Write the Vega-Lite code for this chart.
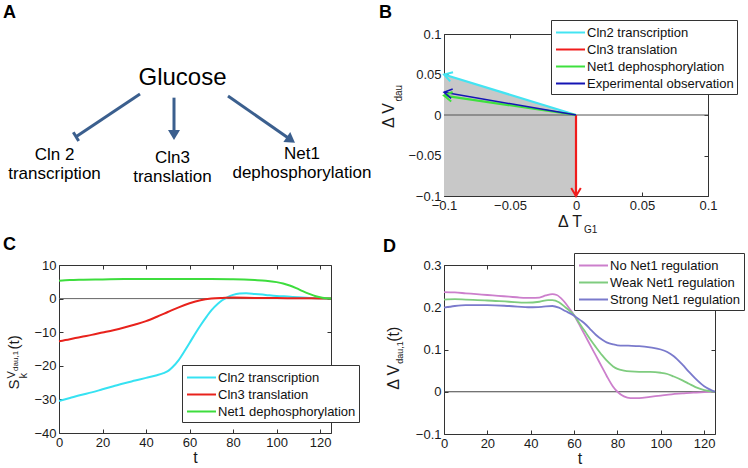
{
"$schema": "https://vega.github.io/schema/vega-lite/v6.json",
"background": "white",
"padding": {"left": 3, "top": 4, "right": 0, "bottom": 0},
"config": {
  "font": "Liberation Sans",
  "view": {"stroke": null},
  "axis": {"grid": false, "zindex": 1, "domainColor": "#333333", "tickColor": "#333333", "labelColor": "#1a1a1a", "labelFont": "Liberation Sans", "labelFontSize": 13, "tickSize": -4, "labelPadding": 7, "labelFlush": false, "labelOverlap": false, "labelBound": false, "titleFont": "Liberation Sans", "titleFontWeight": "normal", "titleFontSize": 16, "titleColor": "#1a1a1a", "titlePadding": 0},
  "text": {"font": "Liberation Sans", "color": "#1a1a1a"}
},
"datasets": {
  "diagramArrows": [
    {"x": 29.78, "y": 62.96, "x2": 6.25, "y2": 36.6},
    {"x": 5.26, "y": 39.32, "x2": 7.24, "y2": 33.95},
    {"x": 42.28, "y": 60.7, "x2": 42.28, "y2": 38.3},
    {"x": 62.13, "y": 61.73, "x2": 84.96, "y2": 35.0}
  ],
  "diagramHeads": [
    {"target": "Cln3", "x": 42.28, "y": 34.6},
    {"target": "Net1", "x": 86.76, "y": 32.9}
  ],
  "diagramRoot": [{"label": "Glucose", "x": 45.4, "y": 68.5}],
  "diagramLabels": [
    {"label": "Cln 2\ntranscription", "x": -1.65, "y": 22.2},
    {"label": "Cln3\ntranslation", "x": 41.7, "y": 20.6},
    {"label": "Net1\ndephosphorylation", "x": 89.3, "y": 22.7}
  ],
  "shadeB": [
    {"dT": -0.1, "top": 0.05, "bottom": -0.1},
    {"dT": 0, "top": 0, "bottom": -0.1}
  ],
  "arrowsB": [
    {"series": "Cln2 transcription", "dT": -0.1, "dV": 0.05},
    {"series": "Cln3 translation", "dT": 0, "dV": -0.1},
    {"series": "Net1 dephosphorylation", "dT": -0.1, "dV": 0.024},
    {"series": "Experimental observation", "dT": -0.1, "dV": 0.028}
  ],
  "panelC": [
    {"t": 0, "series": "Cln2 transcription", "S": -30.5},
    {"t": 5, "series": "Cln2 transcription", "S": -29.6},
    {"t": 10, "series": "Cln2 transcription", "S": -28.7},
    {"t": 15, "series": "Cln2 transcription", "S": -27.9},
    {"t": 20, "series": "Cln2 transcription", "S": -27.0},
    {"t": 25, "series": "Cln2 transcription", "S": -26.1},
    {"t": 30, "series": "Cln2 transcription", "S": -25.2},
    {"t": 35, "series": "Cln2 transcription", "S": -24.4},
    {"t": 40, "series": "Cln2 transcription", "S": -23.6},
    {"t": 45, "series": "Cln2 transcription", "S": -22.8},
    {"t": 48, "series": "Cln2 transcription", "S": -22.2},
    {"t": 50, "series": "Cln2 transcription", "S": -21.6},
    {"t": 52, "series": "Cln2 transcription", "S": -20.5},
    {"t": 55, "series": "Cln2 transcription", "S": -18.3},
    {"t": 58, "series": "Cln2 transcription", "S": -15.3},
    {"t": 60, "series": "Cln2 transcription", "S": -13.2},
    {"t": 63, "series": "Cln2 transcription", "S": -10.0},
    {"t": 65, "series": "Cln2 transcription", "S": -8.0},
    {"t": 68, "series": "Cln2 transcription", "S": -5.2},
    {"t": 70, "series": "Cln2 transcription", "S": -3.5},
    {"t": 73, "series": "Cln2 transcription", "S": -1.5},
    {"t": 75, "series": "Cln2 transcription", "S": -0.5},
    {"t": 78, "series": "Cln2 transcription", "S": 0.6},
    {"t": 80, "series": "Cln2 transcription", "S": 1.1},
    {"t": 83, "series": "Cln2 transcription", "S": 1.5},
    {"t": 86, "series": "Cln2 transcription", "S": 1.6},
    {"t": 90, "series": "Cln2 transcription", "S": 1.4},
    {"t": 95, "series": "Cln2 transcription", "S": 1.1},
    {"t": 100, "series": "Cln2 transcription", "S": 0.8},
    {"t": 105, "series": "Cln2 transcription", "S": 0.6},
    {"t": 110, "series": "Cln2 transcription", "S": 0.4},
    {"t": 115, "series": "Cln2 transcription", "S": 0.2},
    {"t": 120, "series": "Cln2 transcription", "S": 0.1},
    {"t": 125, "series": "Cln2 transcription", "S": 0.0},
    {"t": 0, "series": "Cln3 translation", "S": -12.7},
    {"t": 5, "series": "Cln3 translation", "S": -12.1},
    {"t": 10, "series": "Cln3 translation", "S": -11.4},
    {"t": 15, "series": "Cln3 translation", "S": -10.8},
    {"t": 20, "series": "Cln3 translation", "S": -10.1},
    {"t": 25, "series": "Cln3 translation", "S": -9.4},
    {"t": 30, "series": "Cln3 translation", "S": -8.6},
    {"t": 35, "series": "Cln3 translation", "S": -7.7},
    {"t": 40, "series": "Cln3 translation", "S": -6.7},
    {"t": 45, "series": "Cln3 translation", "S": -5.4},
    {"t": 50, "series": "Cln3 translation", "S": -4.0},
    {"t": 55, "series": "Cln3 translation", "S": -2.6},
    {"t": 60, "series": "Cln3 translation", "S": -1.4},
    {"t": 65, "series": "Cln3 translation", "S": -0.5},
    {"t": 70, "series": "Cln3 translation", "S": 0.0},
    {"t": 75, "series": "Cln3 translation", "S": 0.2},
    {"t": 80, "series": "Cln3 translation", "S": 0.3},
    {"t": 90, "series": "Cln3 translation", "S": 0.2},
    {"t": 100, "series": "Cln3 translation", "S": 0.15},
    {"t": 110, "series": "Cln3 translation", "S": 0.1},
    {"t": 120, "series": "Cln3 translation", "S": 0.05},
    {"t": 125, "series": "Cln3 translation", "S": 0.0},
    {"t": 0, "series": "Net1 dephosphorylation", "S": 5.3},
    {"t": 5, "series": "Net1 dephosphorylation", "S": 5.5},
    {"t": 10, "series": "Net1 dephosphorylation", "S": 5.6},
    {"t": 20, "series": "Net1 dephosphorylation", "S": 5.7},
    {"t": 30, "series": "Net1 dephosphorylation", "S": 5.8},
    {"t": 40, "series": "Net1 dephosphorylation", "S": 5.8},
    {"t": 50, "series": "Net1 dephosphorylation", "S": 5.8},
    {"t": 60, "series": "Net1 dephosphorylation", "S": 5.8},
    {"t": 70, "series": "Net1 dephosphorylation", "S": 5.8},
    {"t": 80, "series": "Net1 dephosphorylation", "S": 5.75},
    {"t": 85, "series": "Net1 dephosphorylation", "S": 5.65},
    {"t": 90, "series": "Net1 dephosphorylation", "S": 5.5},
    {"t": 95, "series": "Net1 dephosphorylation", "S": 5.3},
    {"t": 100, "series": "Net1 dephosphorylation", "S": 4.9},
    {"t": 103, "series": "Net1 dephosphorylation", "S": 4.5},
    {"t": 106, "series": "Net1 dephosphorylation", "S": 3.9},
    {"t": 109, "series": "Net1 dephosphorylation", "S": 3.1},
    {"t": 112, "series": "Net1 dephosphorylation", "S": 2.2},
    {"t": 115, "series": "Net1 dephosphorylation", "S": 1.4},
    {"t": 118, "series": "Net1 dephosphorylation", "S": 0.7},
    {"t": 121, "series": "Net1 dephosphorylation", "S": 0.25},
    {"t": 125, "series": "Net1 dephosphorylation", "S": 0.0}
  ],
  "panelD": [
    {"t": 0, "series": "No Net1 regulation", "dV": 0.236},
    {"t": 5, "series": "No Net1 regulation", "dV": 0.235},
    {"t": 10, "series": "No Net1 regulation", "dV": 0.233},
    {"t": 15, "series": "No Net1 regulation", "dV": 0.231},
    {"t": 20, "series": "No Net1 regulation", "dV": 0.229},
    {"t": 25, "series": "No Net1 regulation", "dV": 0.227},
    {"t": 30, "series": "No Net1 regulation", "dV": 0.225},
    {"t": 35, "series": "No Net1 regulation", "dV": 0.223},
    {"t": 40, "series": "No Net1 regulation", "dV": 0.222},
    {"t": 44, "series": "No Net1 regulation", "dV": 0.223},
    {"t": 47, "series": "No Net1 regulation", "dV": 0.228},
    {"t": 50, "series": "No Net1 regulation", "dV": 0.231},
    {"t": 52, "series": "No Net1 regulation", "dV": 0.229},
    {"t": 55, "series": "No Net1 regulation", "dV": 0.216},
    {"t": 58, "series": "No Net1 regulation", "dV": 0.196},
    {"t": 60, "series": "No Net1 regulation", "dV": 0.181},
    {"t": 63, "series": "No Net1 regulation", "dV": 0.153},
    {"t": 65, "series": "No Net1 regulation", "dV": 0.134},
    {"t": 68, "series": "No Net1 regulation", "dV": 0.105},
    {"t": 70, "series": "No Net1 regulation", "dV": 0.086},
    {"t": 73, "series": "No Net1 regulation", "dV": 0.057},
    {"t": 75, "series": "No Net1 regulation", "dV": 0.038},
    {"t": 78, "series": "No Net1 regulation", "dV": 0.012},
    {"t": 80, "series": "No Net1 regulation", "dV": 0.0},
    {"t": 83, "series": "No Net1 regulation", "dV": -0.011},
    {"t": 86, "series": "No Net1 regulation", "dV": -0.015},
    {"t": 90, "series": "No Net1 regulation", "dV": -0.015},
    {"t": 95, "series": "No Net1 regulation", "dV": -0.012},
    {"t": 100, "series": "No Net1 regulation", "dV": -0.009},
    {"t": 105, "series": "No Net1 regulation", "dV": -0.006},
    {"t": 110, "series": "No Net1 regulation", "dV": -0.004},
    {"t": 115, "series": "No Net1 regulation", "dV": -0.002},
    {"t": 120, "series": "No Net1 regulation", "dV": -0.001},
    {"t": 125, "series": "No Net1 regulation", "dV": 0.0},
    {"t": 0, "series": "Weak Net1 regulation", "dV": 0.218},
    {"t": 5, "series": "Weak Net1 regulation", "dV": 0.219},
    {"t": 10, "series": "Weak Net1 regulation", "dV": 0.218},
    {"t": 20, "series": "Weak Net1 regulation", "dV": 0.216},
    {"t": 30, "series": "Weak Net1 regulation", "dV": 0.213},
    {"t": 38, "series": "Weak Net1 regulation", "dV": 0.211},
    {"t": 44, "series": "Weak Net1 regulation", "dV": 0.213},
    {"t": 48, "series": "Weak Net1 regulation", "dV": 0.217},
    {"t": 50, "series": "Weak Net1 regulation", "dV": 0.217},
    {"t": 53, "series": "Weak Net1 regulation", "dV": 0.212},
    {"t": 56, "series": "Weak Net1 regulation", "dV": 0.2},
    {"t": 60, "series": "Weak Net1 regulation", "dV": 0.181},
    {"t": 63, "series": "Weak Net1 regulation", "dV": 0.158},
    {"t": 65, "series": "Weak Net1 regulation", "dV": 0.143},
    {"t": 68, "series": "Weak Net1 regulation", "dV": 0.12},
    {"t": 70, "series": "Weak Net1 regulation", "dV": 0.106},
    {"t": 73, "series": "Weak Net1 regulation", "dV": 0.086},
    {"t": 75, "series": "Weak Net1 regulation", "dV": 0.074},
    {"t": 78, "series": "Weak Net1 regulation", "dV": 0.06},
    {"t": 80, "series": "Weak Net1 regulation", "dV": 0.054},
    {"t": 83, "series": "Weak Net1 regulation", "dV": 0.05},
    {"t": 86, "series": "Weak Net1 regulation", "dV": 0.048},
    {"t": 90, "series": "Weak Net1 regulation", "dV": 0.047},
    {"t": 95, "series": "Weak Net1 regulation", "dV": 0.047},
    {"t": 100, "series": "Weak Net1 regulation", "dV": 0.045},
    {"t": 103, "series": "Weak Net1 regulation", "dV": 0.042},
    {"t": 106, "series": "Weak Net1 regulation", "dV": 0.036},
    {"t": 110, "series": "Weak Net1 regulation", "dV": 0.027},
    {"t": 113, "series": "Weak Net1 regulation", "dV": 0.019},
    {"t": 116, "series": "Weak Net1 regulation", "dV": 0.011},
    {"t": 120, "series": "Weak Net1 regulation", "dV": 0.004},
    {"t": 125, "series": "Weak Net1 regulation", "dV": 0.0},
    {"t": 0, "series": "Strong Net1 regulation", "dV": 0.199},
    {"t": 5, "series": "Strong Net1 regulation", "dV": 0.203},
    {"t": 10, "series": "Strong Net1 regulation", "dV": 0.205},
    {"t": 20, "series": "Strong Net1 regulation", "dV": 0.205},
    {"t": 30, "series": "Strong Net1 regulation", "dV": 0.203},
    {"t": 40, "series": "Strong Net1 regulation", "dV": 0.2},
    {"t": 45, "series": "Strong Net1 regulation", "dV": 0.201},
    {"t": 50, "series": "Strong Net1 regulation", "dV": 0.203},
    {"t": 53, "series": "Strong Net1 regulation", "dV": 0.199},
    {"t": 56, "series": "Strong Net1 regulation", "dV": 0.191},
    {"t": 60, "series": "Strong Net1 regulation", "dV": 0.18},
    {"t": 63, "series": "Strong Net1 regulation", "dV": 0.169},
    {"t": 65, "series": "Strong Net1 regulation", "dV": 0.161},
    {"t": 68, "series": "Strong Net1 regulation", "dV": 0.145},
    {"t": 70, "series": "Strong Net1 regulation", "dV": 0.135},
    {"t": 73, "series": "Strong Net1 regulation", "dV": 0.123},
    {"t": 75, "series": "Strong Net1 regulation", "dV": 0.117},
    {"t": 78, "series": "Strong Net1 regulation", "dV": 0.112},
    {"t": 80, "series": "Strong Net1 regulation", "dV": 0.11},
    {"t": 85, "series": "Strong Net1 regulation", "dV": 0.109},
    {"t": 90, "series": "Strong Net1 regulation", "dV": 0.108},
    {"t": 95, "series": "Strong Net1 regulation", "dV": 0.105},
    {"t": 100, "series": "Strong Net1 regulation", "dV": 0.1},
    {"t": 103, "series": "Strong Net1 regulation", "dV": 0.094},
    {"t": 106, "series": "Strong Net1 regulation", "dV": 0.084},
    {"t": 110, "series": "Strong Net1 regulation", "dV": 0.064},
    {"t": 113, "series": "Strong Net1 regulation", "dV": 0.047},
    {"t": 116, "series": "Strong Net1 regulation", "dV": 0.031},
    {"t": 120, "series": "Strong Net1 regulation", "dV": 0.013},
    {"t": 125, "series": "Strong Net1 regulation", "dV": 0.0}
  ]
},
"columns": 2,
"bounds": "flush",
"spacing": {"row": 69, "column": 113},
"resolve": {"scale": {"color": "independent"}, "legend": {"color": "independent"}},
"concat": [
  {
    "width": 272, "height": 162,
    "data": {"values": [{}]},
    "layer": [
      {"data": {"name": "diagramArrows"}, "mark": {"type": "rule", "color": "#3b5f8e", "strokeWidth": 3},
       "encoding": {
         "x": {"field": "x", "type": "quantitative", "scale": {"domain": [0, 100], "nice": false, "zero": false}, "axis": null},
         "y": {"field": "y", "type": "quantitative", "scale": {"domain": [0, 100], "nice": false, "zero": false}, "axis": null},
         "x2": {"field": "x2"}, "y2": {"field": "y2"}}},
      {"data": {"name": "diagramHeads"}, "transform": [{"filter": "datum.target === 'Cln3'"}],
       "mark": {"type": "point", "shape": "M0,0L-1,-0.6L-1,0.6Z", "filled": true, "opacity": 1, "color": "#3b5f8e", "size": 400, "angle": 90},
       "encoding": {"x": {"field": "x", "type": "quantitative", "axis": null}, "y": {"field": "y", "type": "quantitative", "axis": null}}},
      {"data": {"name": "diagramHeads"}, "transform": [{"filter": "datum.target === 'Net1'"}],
       "mark": {"type": "point", "shape": "M0,0L-1,-0.6L-1,0.6Z", "filled": true, "opacity": 1, "color": "#3b5f8e", "size": 400, "angle": 35},
       "encoding": {"x": {"field": "x", "type": "quantitative", "axis": null}, "y": {"field": "y", "type": "quantitative", "axis": null}}},
      {"data": {"name": "diagramRoot"}, "mark": {"type": "text", "fontSize": 24, "align": "center", "baseline": "alphabetic", "color": "#000000"},
       "encoding": {"x": {"field": "x", "type": "quantitative", "axis": null}, "y": {"field": "y", "type": "quantitative", "axis": null}, "text": {"field": "label"}}},
      {"data": {"name": "diagramLabels"}, "mark": {"type": "text", "fontSize": 17, "lineHeight": 19, "lineBreak": "\n", "align": "center", "baseline": "alphabetic", "color": "#000000"},
       "encoding": {"x": {"field": "x", "type": "quantitative", "axis": null}, "y": {"field": "y", "type": "quantitative", "axis": null}, "text": {"field": "label"}}},
      {"mark": {"type": "text", "text": "A", "fontSize": 18, "fontWeight": "bold", "align": "left", "baseline": "alphabetic", "color": "#000000", "dx": -56, "dy": -16},
       "encoding": {"x": {"datum": 0, "type": "quantitative", "axis": null}, "y": {"datum": 100, "type": "quantitative", "axis": null}}}
    ]
  },
  {
    "width": 264, "height": 162,
    "data": {"values": [{}]},
    "resolve": {"axis": {"x": "independent", "y": "independent"}},
    "layer": [
      {"data": {"name": "shadeB"}, "mark": {"type": "area", "color": "#c8c8c8", "opacity": 1},
       "encoding": {
         "x": {"field": "dT", "type": "quantitative", "scale": {"domain": [-0.1, 0.1], "nice": false, "zero": false}, "axis": {"values": [-0.1, -0.05, 0, 0.05, 0.1], "format": "~g", "title": null}},
         "y": {"field": "top", "type": "quantitative", "scale": {"domain": [-0.1, 0.1], "nice": false, "zero": false}, "axis": {"values": [-0.1, -0.05, 0, 0.05, 0.1], "format": "~g", "title": null}},
         "y2": {"field": "bottom"}
       }},
      {"mark": {"type": "rule", "color": "#555555", "strokeWidth": 1},
       "encoding": {
         "x": {"datum": -0.1, "type": "quantitative", "axis": {"orient": "top", "labels": false, "title": null, "values": [-0.1, -0.05, 0, 0.05, 0.1]}},
         "x2": {"datum": 0.1},
         "y": {"datum": 0, "type": "quantitative", "axis": {"orient": "right", "labels": false, "title": null, "values": [-0.1, -0.05, 0, 0.05, 0.1]}}
       }},
      {"data": {"name": "arrowsB"}, "transform": [{"filter": "datum.series !== 'Experimental observation'"}],
       "mark": {"type": "rule", "strokeWidth": 2.2},
       "encoding": {
         "x": {"field": "dT", "type": "quantitative", "axis": null},
         "y": {"field": "dV", "type": "quantitative", "axis": null},
         "x2": {"datum": 0}, "y2": {"datum": 0},
         "color": {"field": "series", "type": "nominal",
           "scale": {"domain": ["Cln2 transcription", "Cln3 translation", "Net1 dephosphorylation", "Experimental observation"], "range": ["#44e4f2", "#f01c1c", "#3ee03e", "#1414b4"]},
           "legend": {"orient": "none", "legendX": 107, "legendY": -14, "title": null, "symbolType": "M-0.88,0H2.53", "symbolSize": 289, "symbolStrokeWidth": 2, "labelFont": "Liberation Sans", "labelFontSize": 13, "labelColor": "#111111", "labelOffset": 14, "padding": 3, "rowPadding": 0, "strokeColor": "#333333", "fillColor": "#ffffff"}}
       }},
      {"data": {"name": "arrowsB"}, "transform": [{"filter": "datum.series === 'Experimental observation'"}],
       "mark": {"type": "rule", "strokeWidth": 1.5},
       "encoding": {
         "x": {"field": "dT", "type": "quantitative", "axis": null},
         "y": {"field": "dV", "type": "quantitative", "axis": null},
         "x2": {"datum": 0}, "y2": {"datum": 0},
         "color": {"field": "series", "type": "nominal",
           "scale": {"domain": ["Cln2 transcription", "Cln3 translation", "Net1 dephosphorylation", "Experimental observation"], "range": ["#44e4f2", "#f01c1c", "#3ee03e", "#1414b4"]}}
       }},
      {"data": {"name": "arrowsB"}, "transform": [{"filter": "datum.series === 'Cln2 transcription'"}],
       "mark": {"type": "point", "shape": "M-1,-0.6L0,0L-1,0.6", "filled": false, "opacity": 1, "size": 256, "strokeWidth": 2, "angle": 197, "color": "#44e4f2"},
       "encoding": {"x": {"field": "dT", "type": "quantitative", "axis": null}, "y": {"field": "dV", "type": "quantitative", "axis": null}}},
      {"data": {"name": "arrowsB"}, "transform": [{"filter": "datum.series === 'Cln3 translation'"}],
       "mark": {"type": "point", "shape": "M-1,-0.6L0,0L-1,0.6", "filled": false, "opacity": 1, "size": 256, "strokeWidth": 2, "angle": 90, "color": "#f01c1c"},
       "encoding": {"x": {"field": "dT", "type": "quantitative", "axis": null}, "y": {"field": "dV", "type": "quantitative", "axis": null}}},
      {"data": {"name": "arrowsB"}, "transform": [{"filter": "datum.series === 'Net1 dephosphorylation'"}],
       "mark": {"type": "point", "shape": "M-1,-0.6L0,0L-1,0.6", "filled": false, "opacity": 1, "size": 256, "strokeWidth": 2, "angle": 188.4, "color": "#3ee03e"},
       "encoding": {"x": {"field": "dT", "type": "quantitative", "axis": null}, "y": {"field": "dV", "type": "quantitative", "axis": null}}},
      {"data": {"name": "arrowsB"}, "transform": [{"filter": "datum.series === 'Experimental observation'"}],
       "mark": {"type": "point", "shape": "M-1,-0.6L0,0L-1,0.6", "filled": false, "opacity": 1, "size": 256, "strokeWidth": 1.5, "angle": 189.8, "color": "#1414b4"},
       "encoding": {"x": {"field": "dT", "type": "quantitative", "axis": null}, "y": {"field": "dV", "type": "quantitative", "axis": null}}},
      {"mark": {"type": "text", "text": "Δ V", "fontSize": 16, "angle": 270, "align": "left", "baseline": "alphabetic", "dx": -13, "dy": -50},
       "encoding": {"x": {"datum": -0.1, "type": "quantitative", "axis": null}, "y": {"datum": 0, "type": "quantitative", "axis": null}}},
      {"mark": {"type": "text", "text": "dau", "fontSize": 10, "angle": 270, "align": "left", "baseline": "alphabetic", "dx": 13.5, "dy": -42},
       "encoding": {"x": {"datum": -0.1, "type": "quantitative", "axis": null}, "y": {"datum": 0, "type": "quantitative", "axis": null}}},
      {"mark": {"type": "text", "text": "Δ T", "fontSize": 16, "align": "left", "baseline": "alphabetic", "dx": -18, "dy": 31},
       "encoding": {"x": {"datum": 0, "type": "quantitative", "axis": null}, "y": {"datum": -0.1, "type": "quantitative", "axis": null}}},
      {"mark": {"type": "text", "text": "G1", "fontSize": 10, "align": "left", "baseline": "alphabetic", "dx": 8, "dy": 37},
       "encoding": {"x": {"datum": 0, "type": "quantitative", "axis": null}, "y": {"datum": -0.1, "type": "quantitative", "axis": null}}},
      {"mark": {"type": "text", "text": "B", "fontSize": 18, "fontWeight": "bold", "align": "left", "baseline": "alphabetic", "color": "#000000", "dx": -65, "dy": -16},
       "encoding": {"x": {"datum": -0.1, "type": "quantitative", "axis": null}, "y": {"datum": 0.1, "type": "quantitative", "axis": null}}}
    ]
  },
  {
    "width": 272, "height": 168,
    "data": {"values": [{}]},
    "resolve": {"axis": {"x": "independent", "y": "independent"}},
    "layer": [
      {"mark": {"type": "rule", "color": "#666666", "strokeWidth": 1},
       "encoding": {
         "x": {"datum": 0, "type": "quantitative", "scale": {"domain": [0, 125], "nice": false, "zero": false}, "axis": {"orient": "top", "labels": false, "title": null, "values": [0, 20, 40, 60, 80, 100, 120]}},
         "x2": {"datum": 125},
         "y": {"datum": 0, "type": "quantitative", "scale": {"domain": [-40, 10], "nice": false, "zero": false}, "axis": {"orient": "right", "labels": false, "title": null, "values": [-40, -30, -20, -10, 0, 10]}}
       }},
      {"data": {"name": "panelC"}, "mark": {"type": "line", "strokeWidth": 2, "interpolate": "monotone"},
       "encoding": {
         "x": {"field": "t", "type": "quantitative", "scale": {"domain": [0, 125], "nice": false, "zero": false}, "axis": {"values": [0, 20, 40, 60, 80, 100, 120], "format": "d", "title": "t"}},
         "y": {"field": "S", "type": "quantitative", "scale": {"domain": [-40, 10], "nice": false, "zero": false}, "axis": {"values": [-40, -30, -20, -10, 0, 10], "format": "d", "title": null}},
         "color": {"field": "series", "type": "nominal",
           "scale": {"domain": ["Cln2 transcription", "Cln3 translation", "Net1 dephosphorylation"], "range": ["#36e2f2", "#e8221c", "#3ddd3d"]},
           "legend": {"orient": "none", "legendX": 123, "legendY": 100, "title": null, "symbolType": "M-0.88,0H2.53", "symbolSize": 289, "symbolStrokeWidth": 2, "labelFont": "Liberation Sans", "labelFontSize": 13, "labelColor": "#111111", "labelOffset": 14, "padding": 3, "rowPadding": 0, "strokeColor": "#333333", "fillColor": "#ffffff"}}
       }},
      {"mark": {"type": "text", "text": "S", "fontSize": 15, "angle": 270, "align": "left", "baseline": "alphabetic", "dx": 10, "dy": -40},
       "encoding": {"x": {"datum": 0, "type": "quantitative", "axis": null}, "y": {"datum": -30, "type": "quantitative", "axis": null}}},
      {"mark": {"type": "text", "text": "k", "fontSize": 11, "angle": 270, "align": "left", "baseline": "alphabetic", "dx": 21, "dy": -32},
       "encoding": {"x": {"datum": 0, "type": "quantitative", "axis": null}, "y": {"datum": -30, "type": "quantitative", "axis": null}}},
      {"mark": {"type": "text", "text": "V", "fontSize": 11, "angle": 270, "align": "left", "baseline": "alphabetic", "dx": 21, "dy": -44},
       "encoding": {"x": {"datum": 0, "type": "quantitative", "axis": null}, "y": {"datum": -30, "type": "quantitative", "axis": null}}},
      {"mark": {"type": "text", "text": "dau,1", "fontSize": 8, "angle": 270, "align": "left", "baseline": "alphabetic", "dx": 28.5, "dy": -41},
       "encoding": {"x": {"datum": 0, "type": "quantitative", "axis": null}, "y": {"datum": -30, "type": "quantitative", "axis": null}}},
      {"mark": {"type": "text", "text": "(t)", "fontSize": 15, "angle": 270, "align": "left", "baseline": "alphabetic", "dx": 50, "dy": -40},
       "encoding": {"x": {"datum": 0, "type": "quantitative", "axis": null}, "y": {"datum": -30, "type": "quantitative", "axis": null}}},
      {"mark": {"type": "text", "text": "C", "fontSize": 18, "fontWeight": "bold", "align": "left", "baseline": "alphabetic", "color": "#000000", "dx": -56, "dy": -15.5},
       "encoding": {"x": {"datum": 0, "type": "quantitative", "axis": null}, "y": {"datum": 10, "type": "quantitative", "axis": null}}}
    ]
  },
  {
    "width": 271, "height": 169,
    "data": {"values": [{}]},
    "resolve": {"axis": {"x": "independent", "y": "independent"}},
    "layer": [
      {"mark": {"type": "rule", "color": "#444444", "strokeWidth": 1},
       "encoding": {
         "x": {"datum": 0, "type": "quantitative", "scale": {"domain": [0, 125], "nice": false, "zero": false}, "axis": {"orient": "top", "labels": false, "title": null, "values": [0, 20, 40, 60, 80, 100, 120]}},
         "x2": {"datum": 125},
         "y": {"datum": 0, "type": "quantitative", "scale": {"domain": [-0.1, 0.3], "nice": false, "zero": false}, "axis": {"orient": "right", "labels": false, "title": null, "values": [-0.1, 0, 0.1, 0.2, 0.3]}}
       }},
      {"data": {"name": "panelD"}, "mark": {"type": "line", "strokeWidth": 1.8, "interpolate": "monotone"},
       "encoding": {
         "x": {"field": "t", "type": "quantitative", "scale": {"domain": [0, 125], "nice": false, "zero": false}, "axis": {"values": [0, 20, 40, 60, 80, 100, 120], "format": "d", "title": "t"}},
         "y": {"field": "dV", "type": "quantitative", "scale": {"domain": [-0.1, 0.3], "nice": false, "zero": false}, "axis": {"values": [-0.1, 0, 0.1, 0.2, 0.3], "format": "~g", "title": null}},
         "color": {"field": "series", "type": "nominal",
           "scale": {"domain": ["No Net1 regulation", "Weak Net1 regulation", "Strong Net1 regulation"], "range": ["#cc7fcc", "#7fcc7f", "#7a7acc"]},
           "legend": {"orient": "none", "legendX": 130, "legendY": -12, "title": null, "symbolType": "M-0.88,0H2.53", "symbolSize": 289, "symbolStrokeWidth": 2, "labelFont": "Liberation Sans", "labelFontSize": 13, "labelColor": "#111111", "labelOffset": 14, "padding": 3, "rowPadding": 0, "strokeColor": "#333333", "fillColor": "#ffffff"}}
       }},
      {"mark": {"type": "text", "text": "Δ V", "fontSize": 16, "angle": 270, "align": "left", "baseline": "alphabetic", "dx": 2, "dy": -45},
       "encoding": {"x": {"datum": 0, "type": "quantitative", "axis": null}, "y": {"datum": 0, "type": "quantitative", "axis": null}}},
      {"mark": {"type": "text", "text": "dau,1", "fontSize": 9, "angle": 270, "align": "left", "baseline": "alphabetic", "dx": 28, "dy": -41},
       "encoding": {"x": {"datum": 0, "type": "quantitative", "axis": null}, "y": {"datum": 0, "type": "quantitative", "axis": null}}},
      {"mark": {"type": "text", "text": "(t)", "fontSize": 16, "angle": 270, "align": "left", "baseline": "alphabetic", "dx": 50, "dy": -45},
       "encoding": {"x": {"datum": 0, "type": "quantitative", "axis": null}, "y": {"datum": 0, "type": "quantitative", "axis": null}}},
      {"mark": {"type": "text", "text": "D", "fontSize": 18, "fontWeight": "bold", "align": "left", "baseline": "alphabetic", "color": "#000000", "dx": -61, "dy": -13},
       "encoding": {"x": {"datum": 0, "type": "quantitative", "axis": null}, "y": {"datum": 0.3, "type": "quantitative", "axis": null}}}
    ]
  }
]
}
